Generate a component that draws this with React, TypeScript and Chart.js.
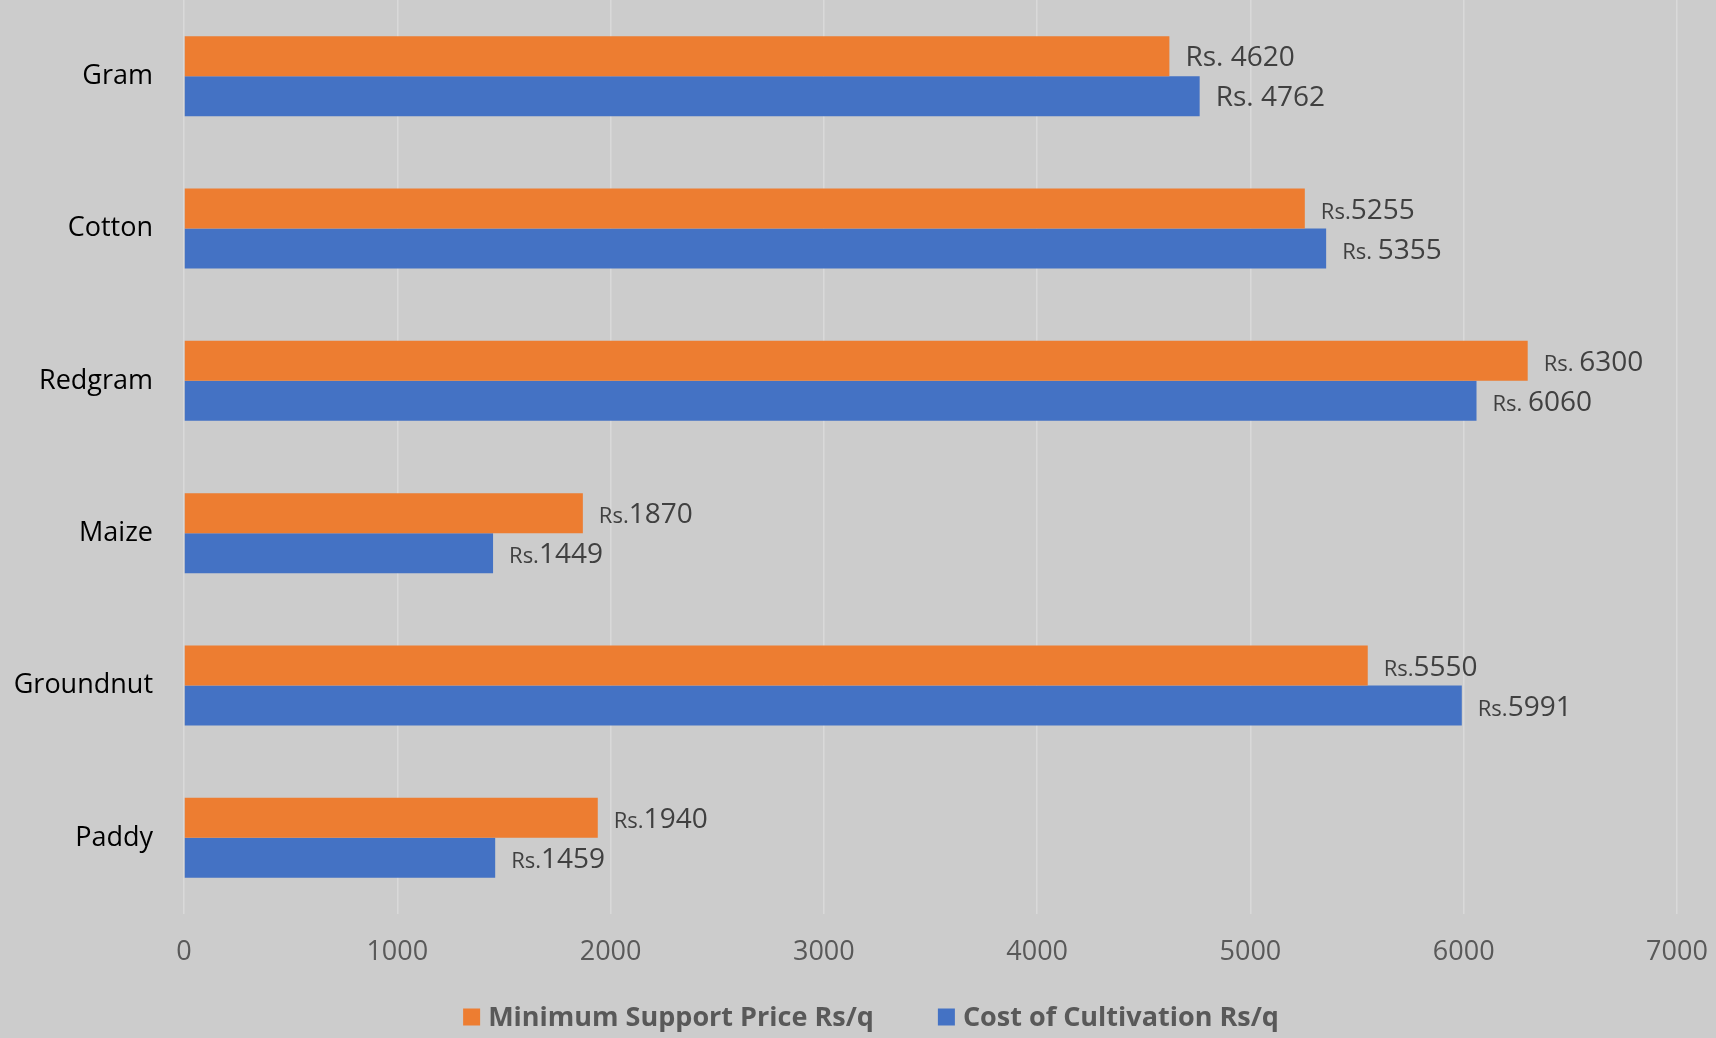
import React, { useEffect, useRef } from 'react';
import { Chart, registerables } from 'chart.js';

Chart.register(...registerables);

const categories = ['Gram', 'Cotton', 'Redgram', 'Maize', 'Groundnut', 'Paddy'];
const mspValues = [4620, 5255, 6300, 1870, 5550, 1940];
const cocValues = [4762, 5355, 6060, 1449, 5991, 1459];
const mspPrefixes = ['Rs. ', 'Rs.', 'Rs. ', 'Rs.', 'Rs.', 'Rs.'];
const cocPrefixes = ['Rs. ', 'Rs. ', 'Rs. ', 'Rs.', 'Rs.', 'Rs.'];
const smallPrefix = [false, true, true, true, true, true];
const seriesNames = ['Minimum Support Price Rs/q', 'Cost of Cultivation Rs/q'];
const seriesColors = ['#ED7D31', '#4472C4'];
const xMin = 0;
const xMax = 7000;
const xStep = 1000;

const FONT = "'Open Sans', 'Noto Sans', sans-serif";
const W = 1716;
const H = 1038;

const dataLabelPlugin = {
  id: 'rsLabels',
  afterDatasetsDraw(chart: any) {
    const ctx = chart.ctx;
    const prefixes = [mspPrefixes, cocPrefixes];
    chart.data.datasets.forEach((ds: any, di: number) => {
      const meta = chart.getDatasetMeta(di);
      meta.data.forEach((bar: any, i: number) => {
        const value = ds.data[i];
        const prefix = prefixes[di][i];
        const big = 28;
        const sm = smallPrefix[i] ? 22 : 28;
        let x = bar.x + 16;
        const y = bar.y + big * 0.36;
        ctx.save();
        ctx.fillStyle = '#404040';
        ctx.textBaseline = 'alphabetic';
        ctx.textAlign = 'left';
        ctx.font = `${sm}px ${FONT}`;
        ctx.fillText(prefix, x, y);
        x += ctx.measureText(prefix).width;
        ctx.font = `${big}px ${FONT}`;
        ctx.fillText(String(value), x, y);
        ctx.restore();
      });
    });
  },
};

const legendPlugin = {
  id: 'customLegend',
  afterDraw(chart: any) {
    const ctx = chart.ctx;
    const box = 17;
    const gap = 8;
    const itemGap = 64;
    const cy = 1017;
    ctx.save();
    ctx.font = `bold 27px ${FONT}`;
    const widths = seriesNames.map((n) => ctx.measureText(n).width);
    const total = widths.reduce((a, w) => a + box + gap + w, 0) + itemGap * (seriesNames.length - 1);
    let x = W / 2 + 13 - total / 2;
    seriesNames.forEach((name, i) => {
      ctx.fillStyle = seriesColors[i];
      ctx.fillRect(x, cy - box / 2, box, box);
      x += box + gap;
      ctx.fillStyle = '#595959';
      ctx.textBaseline = 'middle';
      ctx.textAlign = 'left';
      ctx.fillText(name, x, cy + 1);
      x += widths[i] + itemGap;
    });
    ctx.restore();
  },
};

export default function App() {
  const ref = useRef<HTMLCanvasElement | null>(null);

  useEffect(() => {
    document.body.style.margin = '0';
    document.body.style.background = '#cccccc';
    const canvas = ref.current;
    if (!canvas) return;
    const chart = new Chart(canvas, {
      type: 'bar',
      data: {
        labels: categories,
        datasets: [
          {
            label: seriesNames[0],
            data: mspValues,
            backgroundColor: seriesColors[0],
            barPercentage: 1,
            categoryPercentage: 0.525,
          },
          {
            label: seriesNames[1],
            data: cocValues,
            backgroundColor: seriesColors[1],
            barPercentage: 1,
            categoryPercentage: 0.525,
          },
        ],
      },
      options: {
        indexAxis: 'y',
        responsive: false,
        animation: false,
        devicePixelRatio: 1,
        layout: { padding: { left: 0, right: 39, top: 0, bottom: 54 } },
        plugins: {
          legend: { display: false },
          tooltip: { enabled: false },
        },
        scales: {
          x: {
            min: xMin,
            max: xMax,
            ticks: {
              stepSize: xStep,
              color: '#595959',
              padding: 22,
              font: { family: FONT, size: 27 },
              callback: (v: any) => String(v),
            },
            grid: { color: '#d9d9d9', lineWidth: 1.5, drawTicks: false },
            border: { display: false },
            afterFit(scale: any) {
              scale.height = 70;
              scale.paddingLeft = 0;
              scale.paddingRight = 0;
            },
          },
          y: {
            ticks: {
              color: '#000000',
              padding: 31,
              font: { family: FONT, size: 27 },
            },
            grid: { display: false, drawTicks: false },
            border: { display: false },
            afterFit(scale: any) {
              scale.width = 184;
              scale.paddingTop = 0;
              scale.paddingBottom = 0;
            },
          },
        },
      },
      plugins: [dataLabelPlugin, legendPlugin],
    } as any);
    return () => chart.destroy();
  }, []);

  return (
    <div style={{ width: W, height: H, background: '#cccccc' }}>
      <canvas ref={ref} width={W} height={H} style={{ display: 'block' }} />
    </div>
  );
}
